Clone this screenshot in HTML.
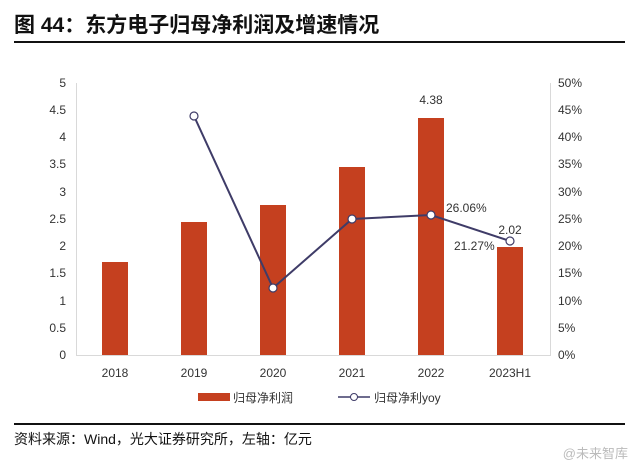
<!DOCTYPE html>
<html><head><meta charset="utf-8"><style>
body{margin:0;background:#fff;}
svg text{font-family:"Liberation Sans","Noto Sans CJK SC",sans-serif;}
</style></head><body>
<svg width="640" height="471" xmlns="http://www.w3.org/2000/svg">
<text x="14" y="32" font-size="21" font-weight="bold" fill="#111">图 44：东方电子归母净利润及增速情况</text>
<rect x="14" y="41" width="611" height="2" fill="#111"/>
<g stroke="#d9d9d9" stroke-width="1" fill="none">
<path d="M76.5 83V355.5H550.5V83"/>
</g>
<g font-size="12" fill="#333" text-anchor="end">
<text x="66" y="359">0</text><text x="66" y="332">0.5</text><text x="66" y="305">1</text><text x="66" y="277">1.5</text><text x="66" y="250">2</text><text x="66" y="223">2.5</text><text x="66" y="196">3</text><text x="66" y="168">3.5</text><text x="66" y="141">4</text><text x="66" y="114">4.5</text><text x="66" y="87">5</text>
</g>
<g font-size="12" fill="#333">
<text x="558" y="359">0%</text><text x="558" y="332">5%</text><text x="558" y="305">10%</text><text x="558" y="277">15%</text><text x="558" y="250">20%</text><text x="558" y="223">25%</text><text x="558" y="196">30%</text><text x="558" y="168">35%</text><text x="558" y="141">40%</text><text x="558" y="114">45%</text><text x="558" y="87">50%</text>
</g>
<g fill="#c5401f">
<rect x="102" y="262" width="26" height="93"/>
<rect x="181" y="222" width="26" height="133"/>
<rect x="260" y="205" width="26" height="150"/>
<rect x="339" y="167" width="26" height="188"/>
<rect x="418" y="118" width="26" height="237"/>
<rect x="497" y="247" width="26" height="108"/>
</g>
<polyline points="194,116 273,288 352,219 431,215 510,241" fill="none" stroke="#3f3c68" stroke-width="2"/>
<g fill="#fff" stroke="#3f3c68" stroke-width="1.2">
<circle cx="194" cy="116" r="4"/><circle cx="273" cy="288" r="4"/><circle cx="352" cy="219" r="4"/><circle cx="431" cy="215" r="4"/><circle cx="510" cy="241" r="4"/>
</g>
<g font-size="12" fill="#333">
<text x="431" y="104" text-anchor="middle">4.38</text>
<text x="446" y="212">26.06%</text>
<text x="510" y="234" text-anchor="middle">2.02</text>
<text x="454" y="250">21.27%</text>
</g>
<g font-size="12" fill="#333" text-anchor="middle">
<text x="115" y="377">2018</text><text x="194" y="377">2019</text><text x="273" y="377">2020</text><text x="352" y="377">2021</text><text x="431" y="377">2022</text><text x="510" y="377">2023H1</text>
</g>
<rect x="198" y="393" width="32" height="8" fill="#c5401f"/>
<text x="233" y="402" font-size="12" fill="#333">归母净利润</text>
<line x1="338" y1="397" x2="370" y2="397" stroke="#3f3c68" stroke-width="1.5"/>
<circle cx="354" cy="397" r="3.5" fill="#fff" stroke="#3f3c68"/>
<text x="374" y="402" font-size="12" fill="#333">归母净利yoy</text>
<rect x="14" y="423" width="611" height="2" fill="#111"/>
<text x="14" y="444" font-size="14" fill="#111">资料来源：Wind，光大证券研究所，左轴：亿元</text>
<text x="628" y="458" font-size="13" fill="#bbb" text-anchor="end">@未来智库</text>
</svg>
</body></html>
